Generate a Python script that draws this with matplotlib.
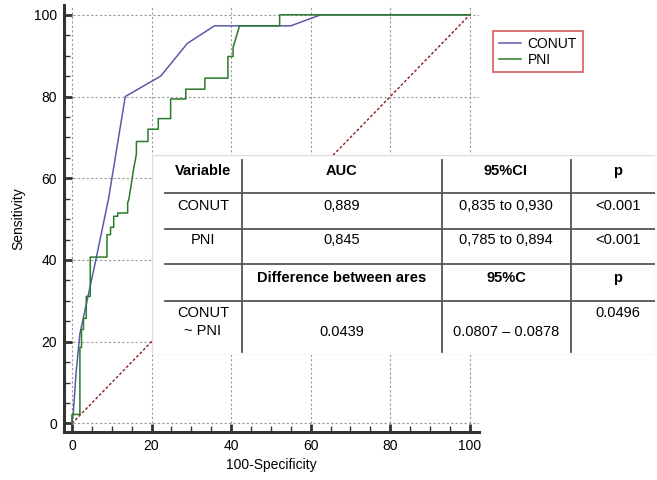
import matplotlib.pyplot as plt
from matplotlib.patches import Rectangle

plt.rcParams['font.family'] = ['Liberation Sans', 'DejaVu Sans']

# ROC curves (100-Specificity, Sensitivity)
conut_x = [0, 0.3, 1, 2, 2.9, 6, 9.2, 13.4, 22.3, 29, 35.8, 55, 62.5, 100]
conut_y = [0, 2, 12, 22, 26, 40, 55, 80, 85, 93, 97.3, 97.3, 100, 100]

pni_x = [0, 0, 2, 2, 2.4, 2.4, 2.9, 2.9, 3.6, 3.6, 4.6, 4.6, 8.8, 8.8, 9.7, 9.7,
         10.5, 10.5, 11.5, 11.5, 14, 14, 14.3, 15.1, 15.4, 16.2, 16.2, 19.1, 19.1,
         21.7, 21.7, 24.8, 24.8, 28.6, 28.6, 33.4, 33.4, 39.2, 39.2, 40.5, 40.5,
         42.1, 52.2, 52.2, 100]
pni_y = [0, 2.2, 2.2, 18.6, 18.6, 23, 23, 25.7, 25.7, 31.1, 31.1, 40.7, 40.7, 46.2,
         46.2, 48, 48, 50.7, 50.7, 51.5, 51.5, 54, 54.8, 59.7, 61.7, 66, 69, 69, 72,
         72, 74.6, 74.6, 79.4, 79.4, 81.8, 81.8, 84.5, 84.5, 89.8, 89.8, 92,
         97.3, 97.3, 100, 100]

# table content
header = ['Variable', 'AUC', '95%CI', 'p']
row_conut = ['CONUT', '0,889', '0,835 to 0,930', '<0.001']
row_pni = ['PNI', '0,845', '0,785 to 0,894', '<0.001']
header2 = ['', 'Difference between ares', '95%C', 'p']
row_diff = ['CONUT\n~ PNI', '0.0439', '0.0807 \u2013 0.0878', '0.0496']

fig = plt.figure(figsize=(6.57, 4.8), dpi=100)
ax = fig.add_axes([64 / 657, 48 / 480, 415 / 657, 427 / 480])

ax.plot([0, 100], [0, 100], color='#8b1a1a', lw=1.0, dashes=(2, 1.5))
ax.plot(conut_x, conut_y, color='#5a5aa8', lw=1.1, label='CONUT')
ax.plot(pni_x, pni_y, color='#2a7a2a', lw=1.1, label='PNI')

ax.set_xlim(-2.0, 102.3)
ax.set_ylim(-2.1, 102.4)
ax.set_xticks(range(0, 101, 20))
ax.set_yticks(range(0, 101, 20))
ax.set_xticks(range(0, 101, 5), minor=True)
ax.set_yticks(range(0, 101, 5), minor=True)
ax.tick_params(which='major', direction='in', length=6, width=2, color='#333333',
               labelsize=10, pad=5)
ax.tick_params(which='minor', direction='in', length=4, width=1, color='#333333')
ax.grid(True, which='major', color='#999999', lw=0.8, dashes=(2, 2))
for s in ['top', 'right']:
    ax.spines[s].set_visible(False)
for s in ['left', 'bottom']:
    ax.spines[s].set_linewidth(2.2)
    ax.spines[s].set_color('#333333')
ax.set_xlabel('100-Specificity', fontsize=10)
ax.set_ylabel('Sensitivity', fontsize=10, labelpad=6)

leg = fig.legend(loc='upper left', bbox_to_anchor=(486 / 657, 1 - 24 / 480),
                 frameon=True, fancybox=False, fontsize=10, handlelength=1.6,
                 handletextpad=0.5, borderpad=0.4, labelspacing=0.15)
leg.get_frame().set_edgecolor('#cc3333')
leg.get_frame().set_linewidth(1.2)

# table overlay, drawn in pixel-like layout coordinates
tx = fig.add_axes([152 / 657, 1 - 355 / 480, 503 / 657, 200 / 480])
tx.set_xlim(152, 655)
tx.set_ylim(355, 155)
tx.axis('off')
tx.add_patch(Rectangle((152, 155), 503, 200, facecolor='white', edgecolor='#dddddd', lw=1))
for yl in [193, 229, 264, 301]:
    tx.plot([165, 655], [yl, yl], color='#555555', lw=1.3)
for xl in [242, 442, 571]:
    tx.plot([xl, xl], [160, 352], color='#555555', lw=1.3)

col_x = [203, 342, 506, 618]
for i, t in enumerate(header):
    tx.text(col_x[i], 171, t, ha='center', va='center', fontsize=10.5, fontweight='bold')
for i, t in enumerate(row_conut):
    tx.text(col_x[i], 206, t, ha='center', va='center', fontsize=10.5)
for i, t in enumerate(row_pni):
    tx.text(col_x[i], 240, t, ha='center', va='center', fontsize=10.5)
for i, t in enumerate(header2):
    tx.text(col_x[i], 278, t, ha='center', va='center', fontsize=10.5, fontweight='bold')
diff_y = [322, 332, 332, 313]
for i, t in enumerate(row_diff):
    tx.text(col_x[i], diff_y[i], t, ha='center', va='center', fontsize=10.5,
            linespacing=1.3)

fig.savefig('out.png', dpi=100)
